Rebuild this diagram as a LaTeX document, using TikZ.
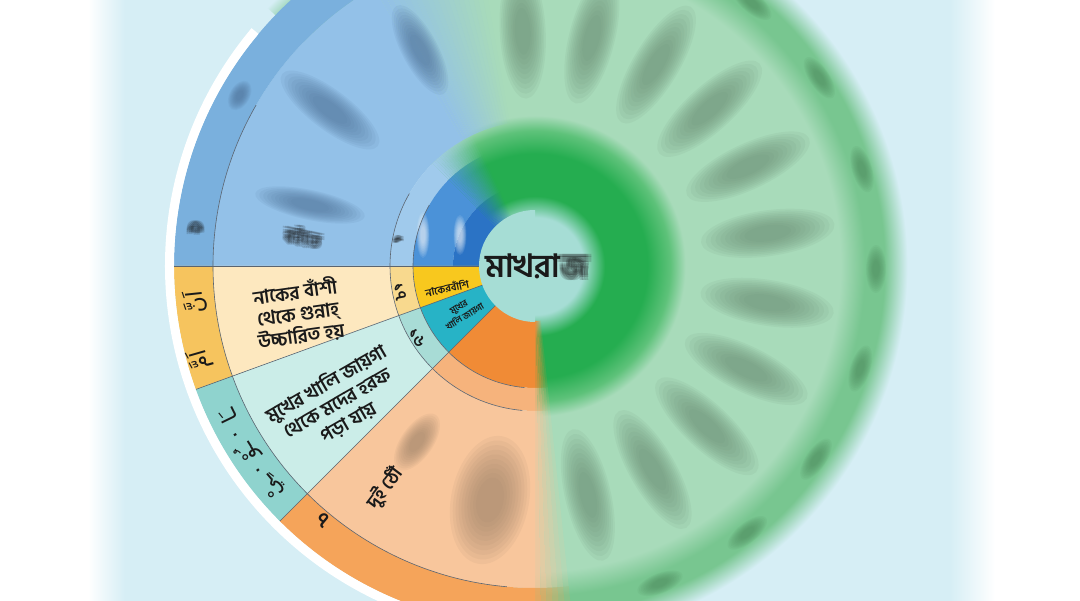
\documentclass[tikz,border=0pt]{standalone}
\usepackage{fontspec}
\newfontfamily\bn[Script=Bengali]{Hind Siliguri}
\newfontfamily\arfont[Script=Arabic]{DejaVu Sans}
\TeXXeTstate=1
\usetikzlibrary{fadings}
\definecolor{bg}{HTML}{D6EEF5}
\definecolor{ctr}{HTML}{A6DDD5}
\definecolor{gIn}{HTML}{25AD50}
\definecolor{gNum}{HTML}{5EC27A}
\definecolor{gTxt}{HTML}{A8DBBA}
\definecolor{gOut}{HTML}{78C690}
\definecolor{blobG}{HTML}{6A8C72}
\definecolor{blobG2}{HTML}{4E8C5E}
\definecolor{blobBr}{HTML}{9A8068}
\definecolor{blobBl}{HTML}{4D7096}
\definecolor{blueOut}{HTML}{7AB0DD}
\definecolor{blueTxt}{HTML}{93C1E8}
\definecolor{blueNum}{HTML}{A0CAEC}
\definecolor{blueIn}{HTML}{4B92D8}
\definecolor{blueInD}{HTML}{2B73C5}
\definecolor{yelOut}{HTML}{F6C45E}
\definecolor{yelTxt}{HTML}{FDE8BF}
\definecolor{yelNum}{HTML}{F8D98E}
\definecolor{yelIn}{HTML}{F8C81E}
\definecolor{tealOut}{HTML}{8FD3CE}
\definecolor{tealTxt}{HTML}{CBEDE8}
\definecolor{tealNum}{HTML}{A8DCD6}
\definecolor{tealIn}{HTML}{27B3C6}
\definecolor{orOut}{HTML}{F5A45A}
\definecolor{orTxt}{HTML}{F8C69C}
\definecolor{orNum}{HTML}{F6B37C}
\definecolor{orIn}{HTML}{F08B36}
\definecolor{lineC}{HTML}{5A6470}
\definecolor{ink}{HTML}{1A1A1A}
\pgfdeclareradialshading{greenwheel}{\pgfpoint{0bp}{0bp}}{color(0bp)=(ctr); color(3.2bp)=(ctr); color(4.6bp)=(gIn); color(7.4bp)=(gIn); color(8.9bp)=(gNum); color(9.9bp)=(gTxt); color(20.1bp)=(gTxt); color(21.7bp)=(gOut); color(23.0bp)=(gOut); color(24.5bp)=(bg); color(50bp)=(bg)}
\newcommand\wsec[5]{\fill[#1] (#4:#2pt) arc[start angle=#4,end angle=#5,radius=#2pt] -- (#5:#3pt) arc[start angle=#5,end angle=#4,radius=#3pt] -- cycle;}
\newcommand\blob[5]{\begin{scope}[shift={(#1)},rotate=#2]\foreach \s in {0,...,9}{\pgfmathsetmacro\fx{#3/2*(0.35+0.072*\s)}\pgfmathsetmacro\fy{#4/2*(0.35+0.072*\s)}\fill[#5,opacity=0.09] (0,0) ellipse[x radius=\fx pt,y radius=\fy pt];}\end{scope}}
\newcommand\btext[5]{\foreach \dx/\dy [count=\k] in {-#5/0,#5/0,0/-#5,0/#5,-#5/-#5,#5/#5,-#5/#5,#5/-#5,0/0}{\node[opacity=.17,#3] (#1-\k) at ([shift={(\dx pt,\dy pt)}]#2) {#4};}}
\tikzset{
  bntxt/.style={font=\bn\bfseries\fontsize{19}{22}\selectfont, text=ink, align=center, inner sep=0pt},
  artxt/.style={font=\arfont\fontsize{22}{26}\selectfont, text=ink, inner sep=0pt},
  sep/.style={draw=lineC, line width=0.6pt},
}
\begin{document}
\begin{tikzpicture}[x=1pt,y=1pt]
\useasboundingbox (0,0) rectangle (1080,601);
% background
\fill[white] (0,0) rectangle (1080,601);
\fill[bg] (125,0) rectangle (950,601);
\shade[left color=white,right color=bg] (88,0) rectangle (125,601);
\shade[left color=bg,right color=white] (950,0) rectangle (995,601);
\begin{scope}[shift={(535,335)}]
% blurred green half
\begin{scope}
\clip (0,0) -- (-92:400pt) arc[start angle=-92,end angle=136,radius=400pt] -- cycle;
\shade[shading=greenwheel] (0,0) circle (380pt);
\end{scope}
% blue sector
\wsec{blueTxt}{145}{322}{120}{180}
\wsec{blueOut}{322}{361}{120}{180}
\wsec{blueNum}{122}{145}{135}{180}
\wsec{blueIn}{82}{122}{135}{180}
\wsec{blueInD}{55}{82}{135}{180}
\foreach \i in {0,...,19}{
  \pgfmathsetmacro\a{100+\i}\pgfmathsetmacro\b{101+\i}\pgfmathsetmacro\o{(\i+0.5)/20}
  \wsec{blueTxt,opacity=\o}{145}{322}{\a}{\b}
  \wsec{blueOut,opacity=\o}{322}{361}{\a}{\b}
  \pgfmathsetmacro\c{115+\i}\pgfmathsetmacro\d{116+\i}
  \wsec{blueNum,opacity=\o}{122}{145}{\c}{\d}
  \wsec{blueIn,opacity=\o}{82}{122}{\c}{\d}
  \wsec{blueInD,opacity=\o}{55}{82}{\c}{\d}
}
% yellow sector
\wsec{yelIn}{55}{122}{180}{200}
\wsec{yelNum}{122}{145}{180}{200}
\wsec{yelTxt}{145}{322}{180}{200}
\wsec{yelOut}{322}{361}{180}{200}
% teal sector
\wsec{tealIn}{55}{122}{200}{225}
\wsec{tealNum}{122}{145}{200}{225}
\wsec{tealTxt}{145}{322}{200}{225}
\wsec{tealOut}{322}{361}{200}{225}
% orange sector
\wsec{orIn}{55}{122}{225}{270}
\wsec{orNum}{122}{145}{225}{270}
\wsec{orTxt}{145}{322}{225}{270}
\wsec{orOut}{322}{361}{225}{270}
\foreach \i in {0,...,5}{
  \pgfmathsetmacro\a{270+\i}\pgfmathsetmacro\b{271+\i}\pgfmathsetmacro\o{(6-\i)/7}
  \wsec{orIn,opacity=\o}{55}{122}{\a}{\b}
  \wsec{orNum,opacity=\o}{122}{145}{\a}{\b}
  \wsec{orTxt,opacity=\o}{145}{322}{\a}{\b}
  \wsec{orOut,opacity=\o}{322}{361}{\a}{\b}
}
% blurred text blocks in green half
\foreach \a in {-77,-60,...,93}{\blob{\a:235pt}{\a}{135}{46}{blobG}}
\foreach \a in {-68.5,-51.5,...,84.5}{\blob{\a:341pt}{\a+90}{48}{20}{blobG2}}
% blurred blocks in orange and blue
\blob{-45,-234}{79}{130}{78}{blobBr}
\blob{-118,-176}{55}{66}{32}{blobBr}
\blob{-205,156}{-37}{120}{40}{blobBl}
\blob{-115,216}{-62}{100}{36}{blobBl}
\blob{-225,61}{-12}{112}{30}{blobBl}
\blob{150:341pt}{240}{32}{20}{blobBl}
\blob{-112,31}{90}{46}{13}{white}
\blob{-75,31}{90}{40}{13}{white}
% separators
\draw[sep] (180:55pt) -- (180:361pt);
\draw[sep] (200:55pt) -- (200:361pt);
\draw[sep] (225:55pt) -- (225:361pt);
\foreach \r in {122,145,322}{\draw[sep] (150:\r pt) arc[start angle=150,end angle=265,radius=\r pt];}
\draw[white, line width=9pt] (140:365.5pt) arc[start angle=140,end angle=262,radius=365.5pt];
% centre circle
\fill[ctr] (90:56pt) arc[start angle=90,end angle=270,radius=56pt] -- cycle;
\node[bntxt, font=\bn\bfseries\fontsize{32}{34}\selectfont, anchor=base west] (mk) at (-50,-12) {মাখরা};
\btext{mkj}{mk.base east}{bntxt, font=\bn\bfseries\fontsize{32}{34}\selectfont, anchor=base west}{জ}{2.5}
% yellow texts
\node[bntxt, rotate=8] (ytxt) at (-237,-47) {নাকের বাঁশী\\থেকে গুন্নাহ্\\উচ্চারিত হয়};
\node[bntxt, rotate=12, font=\bn\bfseries\fontsize{10.5}{12}\selectfont] (yin) at (-88,-22) {নাকেরবাঁশি};
\node[bntxt, rotate=-79, font=\bn\bfseries\fontsize{16}{18}\selectfont] (ynum) at (-135,-26) {১৭};
\node[artxt, rotate=96] (yar1) at (-340,-36) {اَنَّ};
\node[artxt, rotate=106] (yar2) at (-335,-94) {اَمَّ};
% teal texts
\node[bntxt, rotate=30] (ttxt) at (-198,-137) {মুখের খালি জায়গা\\থেকে মদের হরফ\\পড়া যায়};
\node[bntxt, rotate=32, font=\bn\bfseries\fontsize{9}{10}\selectfont] (tin) at (-73,-46) {মুখের\\খালি জায়গা};
\node[bntxt, rotate=-59, font=\bn\bfseries\fontsize{16}{18}\selectfont] (tnum) at (-118,-72) {১৬};
\node[artxt, rotate=116] (tar1) at (206:342pt) {ـَا};
\node[artxt, rotate=119] (td1) at (209.5:344pt) {.};
\node[artxt, rotate=122] (tar2) at (213:342pt) {ـُوْ};
\node[artxt, rotate=126] (td2) at (216.5:344pt) {.};
\node[artxt, rotate=130] (tar3) at (220:342pt) {ـِيْ};
% orange texts
\node[bntxt, rotate=53] (otxt) at (-150,-222) {দুই ঠোঁ};
\node[bntxt, rotate=-40, font=\bn\bfseries\fontsize{20}{22}\selectfont] (onum) at (-212,-254) {৭};
% blue texts (blurred)
\btext{bt}{-232,29}{bntxt, rotate=-12}{বইতে}{2.2}
\btext{bn}{-137,26}{bntxt, rotate=-101, font=\bn\bfseries\fontsize{16}{18}\selectfont}{১}{1.2}
\btext{bo}{-339,38}{bntxt, rotate=-96, font=\bn\bfseries\fontsize{20}{22}\selectfont}{৫}{2.2}
\end{scope}
\end{tikzpicture}
\end{document}
